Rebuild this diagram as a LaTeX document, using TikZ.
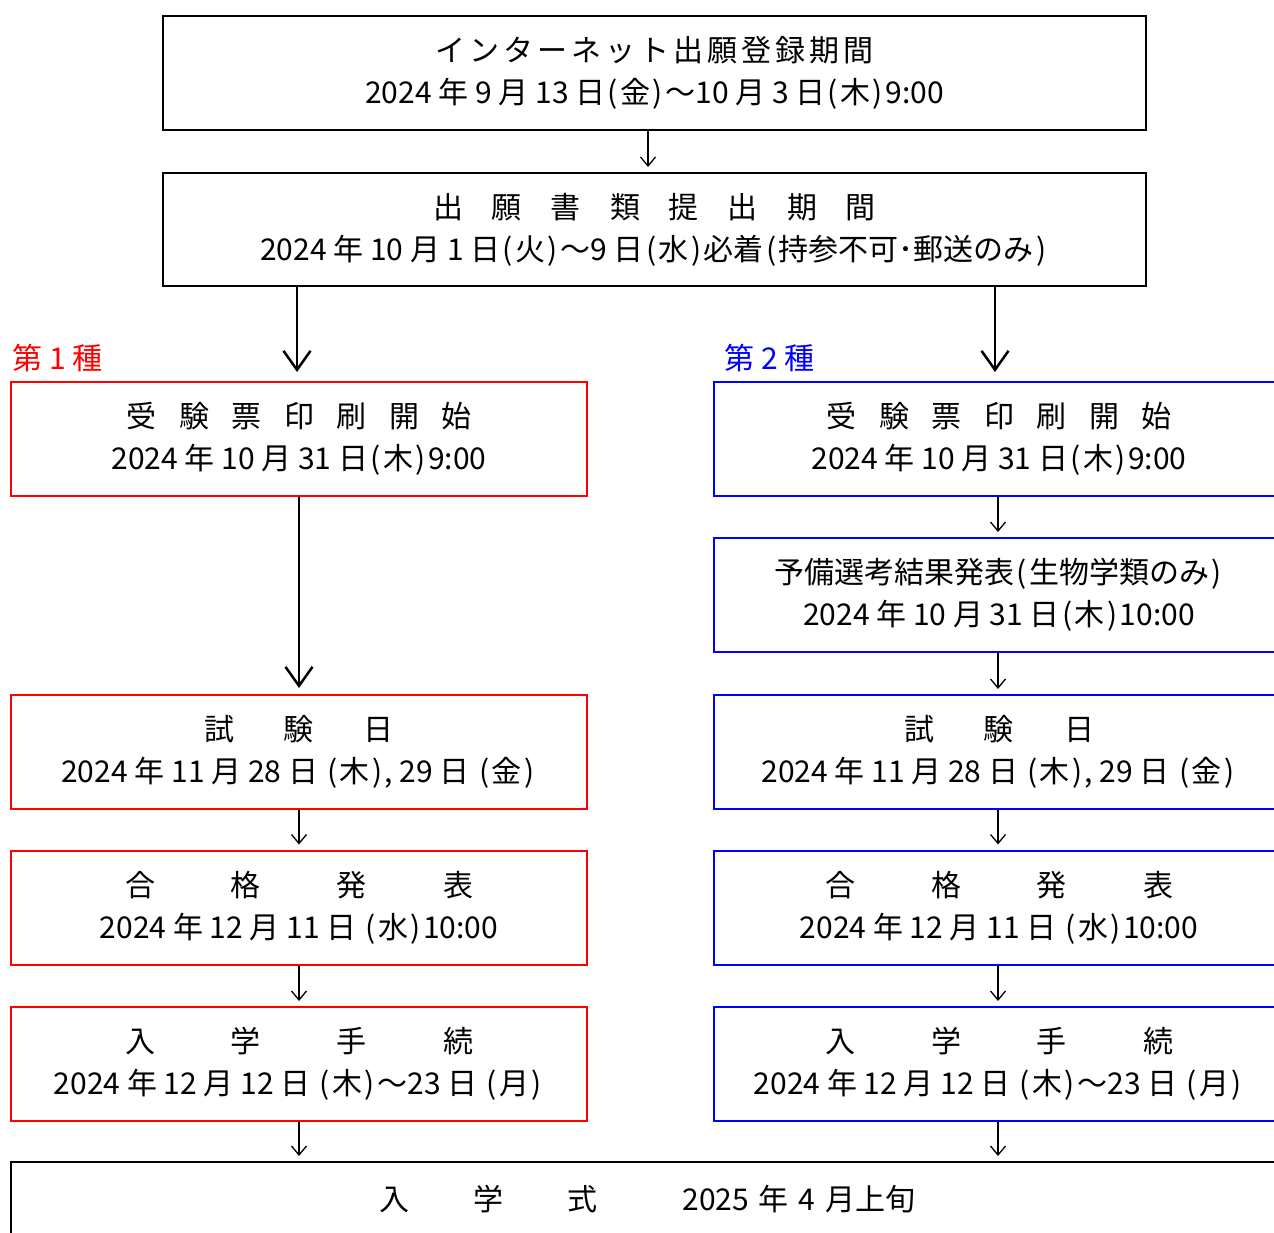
\documentclass[tikz,border=0pt]{standalone}
\usepackage{fontspec}
\setmainfont{Noto Sans CJK JP}
\usetikzlibrary{arrows.meta}
\newlength\cellw
\newcommand\spread[2]{\setlength\cellw{#1}\spreadloop#2\relax}
\def\spreadloop#1{\ifx\relax#1\else\makebox[\cellw]{#1}\expandafter\spreadloop\fi}
\newcommand\po{\makebox[0.5em]{(}}
\newcommand\pc{\makebox[0.5em]{)}}
\begin{document}
\begin{tikzpicture}[x=0.5pt,y=-0.5pt,
  box/.style={draw=black, line width=1pt, inner sep=0pt, align=center,
    minimum height=57pt, font=\fontsize{15pt}{21pt}\selectfont},
  redbox/.style={box, draw=red, minimum width=288pt},
  bluebox/.style={box, draw=blue, minimum width=285pt},
  arr/.style={-{Straight Barb[length=4.5pt,width=7.5pt]}, line width=0.65pt, shorten >=2.5pt},
  bigarr/.style={-{Straight Barb[length=9.5pt,width=13.5pt]}, line width=1.25pt},
  lab/.style={anchor=west, inner sep=0pt, font=\fontsize{15pt}{18pt}\selectfont}]
\useasboundingbox (0,0) rectangle (1274,1232);
\fill[white] (0,0) rectangle (1274,1232);
\clip (0,0) rectangle (1274,1232);

\node[box, minimum width=491.5pt] (top1) at (654.5,73)
  {\spread{17pt}{インターネット出願登録期間}\\2024 年 9 月 13 日\po 金\pc～10 月 3 日\po 木\pc 9:00};
\node[box, minimum width=491.5pt, minimum height=56.5pt] (top2) at (654.5,229.5)
  {\spread{29.5pt}{出願書類提出期間}\\2024 年 10 月 1 日\po 火\pc～9 日\po 水\pc 必着\po 持参不可･郵送のみ\pc};

\node[lab, text=red] (lab1) at (12,358) {第 1 種};
\node[lab, text=blue] (lab2) at (724,358) {第 2 種};

\node[redbox] (L1) at (299,439) {\spread{26.25pt}{受験票印刷開始}\\2024 年 10 月 31 日\po 木\pc 9:00};
\node[redbox] (L2) at (299,752) {\spread{40pt}{試験日}\\2024 年 11 月 28 日 \po 木\pc, 29 日 \po 金\pc};
\node[redbox] (L3) at (299,907.5) {\spread{53pt}{合格発表}\\2024 年 12 月 11 日 \po 水\pc 10:00};
\node[redbox] (L4) at (299,1064) {\spread{53pt}{入学手続}\\2024 年 12 月 12 日 \po 木\pc～23 日 \po 月\pc};

\node[bluebox] (R1) at (999,439) {\spread{26.25pt}{受験票印刷開始}\\2024 年 10 月 31 日\po 木\pc 9:00};
\node[bluebox] (R2) at (999,595) {予備選考結果発表\po 生物学類のみ\pc\\2024 年 10 月 31 日\po 木\pc 10:00};
\node[bluebox] (R3) at (999,752) {\spread{40pt}{試験日}\\2024 年 11 月 28 日 \po 木\pc, 29 日 \po 金\pc};
\node[bluebox] (R4) at (999,907.5) {\spread{53pt}{合格発表}\\2024 年 12 月 11 日 \po 水\pc 10:00};
\node[bluebox] (R5) at (999,1064) {\spread{53pt}{入学手続}\\2024 年 12 月 12 日 \po 木\pc～23 日 \po 月\pc};

\node[box, minimum width=637pt, minimum height=37pt] (fin) at (648,1199)
  {\spread{47pt}{入学式}\hspace{26.5pt}2025\hspace{5pt}年\hspace{5pt}4\hspace{5pt}月上旬\hspace{16.5pt}};

\draw[arr] ([xshift=-3.25pt]top1.south) -- ([xshift=-3.25pt]top2.north);
\draw[bigarr, shorten >=4.5pt] ([xshift=-1pt]top2.south -| L1.north) -- ([xshift=-1pt]L1.north);
\draw[bigarr, shorten >=4.5pt] ([xshift=-2pt]top2.south -| R1.north) -- ([xshift=-2pt]R1.north);
\draw[bigarr, shorten >=3pt] (L1) -- (L2);
\draw[arr] (L2) -- (L3);
\draw[arr] (L3) -- (L4);
\draw[arr] (L4.south) -- (L4.south |- fin.north);
\draw[arr] ([xshift=-0.5pt]R1.south) -- ([xshift=-0.5pt]R2.north);
\draw[arr] ([xshift=-0.5pt]R2.south) -- ([xshift=-0.5pt]R3.north);
\draw[arr] ([xshift=-0.5pt]R3.south) -- ([xshift=-0.5pt]R4.north);
\draw[arr] ([xshift=-0.5pt]R4.south) -- ([xshift=-0.5pt]R5.north);
\draw[arr] ([xshift=-0.5pt]R5.south) -- ([xshift=-0.5pt]R5.south |- fin.north);
\end{tikzpicture}
\end{document}
